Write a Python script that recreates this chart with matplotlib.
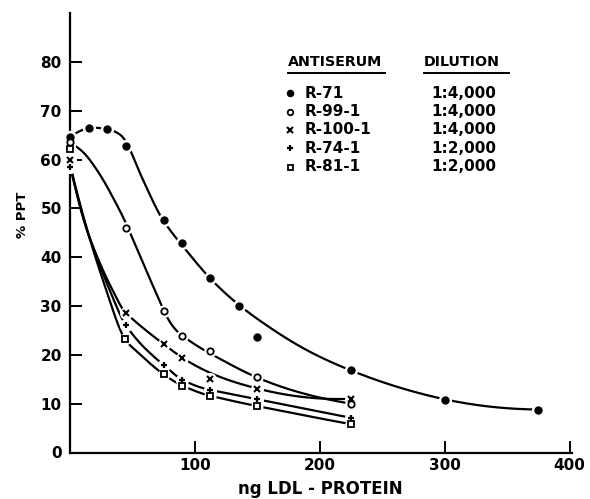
import numpy as np
import matplotlib
matplotlib.use("Agg")
import matplotlib.pyplot as plt

# --- data ---------------------------------------------------------------
# measured points (ng LDL-protein, % PPT)
x_r71 = [0, 15, 30, 45, 75, 90, 112.5, 135, 150, 225, 300, 375]
y_r71 = [64.6, 66.4, 66.3, 62.7, 47.6, 42.9, 35.8, 29.9, 23.7, 16.8, 10.7, 8.8]

x_r99 = [0, 45, 75, 90, 112.5, 150, 225]
y_r99 = [63.6, 45.9, 28.9, 23.8, 20.7, 15.5, 10.0]

x_r100 = [0, 45, 75, 90, 112.5, 150, 225]
y_r100 = [59.9, 28.6, 22.2, 19.4, 15.0, 13.1, 11.0]

x_r74 = [0, 45, 75, 90, 112.5, 150, 225]
y_r74 = [58.5, 26.1, 17.9, 14.9, 12.8, 10.9, 7.1]

x_r81 = [0, 44, 75, 90, 112.5, 150, 225]
y_r81 = [62.2, 23.2, 16.0, 13.7, 11.6, 9.5, 5.8]

# hand-drawn fitted curves, read at knots along each line
fit_x_r71 = [0, 15, 30, 40, 47, 58.5, 74.5, 89.2, 111, 134.9, 149.8, 181, 225, 300, 375]
fit_y_r71 = [64.6, 66.4, 66.2, 65.1, 62.6, 55.8, 47.6, 42.6, 36.0, 30.3, 27.4, 22.2, 16.8, 10.9, 8.8]
fit_x_r99 = [0, 15, 31.9, 46.6, 61.2, 75.3, 90, 112, 149.5, 225]
fit_y_r99 = [63.3, 60.2, 53.4, 45.9, 37.2, 29.0, 23.9, 20.3, 15.4, 10.0]
fit_x_r100 = [0, 15, 34, 44.7, 75, 90, 150, 225]
fit_y_r100 = [58.9, 44.5, 33.3, 28.6, 22.2, 19.4, 13.1, 11.0]
fit_x_r74 = [0, 15, 31.4, 44.7, 75, 90, 112.5, 150, 225]
fit_y_r74 = [58.9, 44.5, 33.5, 26.1, 17.9, 14.9, 12.8, 10.9, 7.1]
fit_x_r81 = [0, 15, 30, 43.3, 50, 75, 90, 112.5, 150, 225]
fit_y_r81 = [58.9, 44.5, 32.5, 23.5, 21.5, 16.0, 13.7, 11.6, 9.5, 5.8]

names = ["R-71", "R-99-1", "R-100-1", "R-74-1", "R-81-1"]
dilutions = ["1:4,000", "1:4,000", "1:4,000", "1:2,000", "1:2,000"]
x_ticks = [100, 200, 300, 400]
y_ticks = [0, 10, 20, 30, 40, 50, 60, 70, 80]


def akima(x, y, xs):
    # Akima spline: local, so it doesn't ring around the sharp knees
    x = np.asarray(x, float)
    y = np.asarray(y, float)
    h = np.diff(x)
    m = np.diff(y) / h
    mm = np.concatenate([[3 * m[0] - 2 * m[1], 2 * m[0] - m[1]], m,
                         [2 * m[-1] - m[-2], 3 * m[-1] - 2 * m[-2]]])
    n = len(x)
    t = np.zeros(n)
    for i in range(n):
        w1 = abs(mm[i + 3] - mm[i + 2])
        w2 = abs(mm[i + 1] - mm[i])
        if w1 + w2 < 1e-12:
            t[i] = 0.5 * (mm[i + 1] + mm[i + 2])
        else:
            t[i] = (w1 * mm[i + 1] + w2 * mm[i + 2]) / (w1 + w2)
    k = np.clip(np.searchsorted(x, xs) - 1, 0, n - 2)
    s = (xs - x[k]) / h[k]
    h00 = 2 * s**3 - 3 * s**2 + 1
    h10 = s**3 - 2 * s**2 + s
    h01 = -2 * s**3 + 3 * s**2
    h11 = s**3 - s**2
    return h00 * y[k] + h10 * h[k] * t[k] + h01 * y[k + 1] + h11 * h[k] * t[k + 1]


plt.rcParams["font.family"] = "DejaVu Sans"

fig = plt.figure(figsize=(5.9, 4.99), dpi=100)
ax = fig.add_axes([70 / 590, 1 - 452.5 / 499, (572 - 70) / 590, (452.5 - 13) / 499])

styles = [
    dict(marker="o", ms=5.0, mfc="black", mec="black", mew=1.0),
    dict(marker="o", ms=4.6, mfc="white", mec="black", mew=1.3),
    dict(marker="x", ms=4.8, mfc="black", mec="black", mew=1.5),
    dict(marker="+", ms=5.0, mfc="black", mec="black", mew=1.6),
    dict(marker="s", ms=4.2, mfc="white", mec="black", mew=1.3),
]
series = [
    (x_r71, y_r71, fit_x_r71, fit_y_r71),
    (x_r99, y_r99, fit_x_r99, fit_y_r99),
    (x_r100, y_r100, fit_x_r100, fit_y_r100),
    (x_r74, y_r74, fit_x_r74, fit_y_r74),
    (x_r81, y_r81, fit_x_r81, fit_y_r81),
]

for (px, py, fx, fy), st in zip(series, styles):
    cx = np.linspace(fx[0], fx[-1], 600)
    ax.plot(cx, akima(fx, fy, cx), color="black", lw=1.6, zorder=2,
            solid_capstyle="round", clip_on=False)
    # white halo gives the little gaps in the line around each point
    ax.plot(px, py, linestyle="none", marker="o", ms=st["ms"] + 3.5,
            mfc="white", mec="white", zorder=3, clip_on=False)
    ax.plot(px, py, linestyle="none", zorder=4, clip_on=False, **st)

ax.set_xlim(0, 402)
ax.set_ylim(0, 90)
ax.set_xticks(x_ticks)
ax.set_yticks(y_ticks)
ax.spines["top"].set_visible(False)
ax.spines["right"].set_visible(False)
ax.spines["left"].set_linewidth(1.6)
ax.spines["bottom"].set_linewidth(1.6)
ax.tick_params(direction="in", length=8.5, width=1.4, labelsize=11, pad=4)
ax.tick_params(axis="y", pad=6)
for lab in ax.get_xticklabels() + ax.get_yticklabels():
    lab.set_fontweight("bold")

fig.text(320 / 590, 1 - 489 / 499, "ng LDL - PROTEIN", ha="center", va="center",
         fontsize=12, fontweight="bold")
fig.text(22 / 590, 1 - 215 / 499, "% PPT", ha="center", va="center",
         rotation=90, fontsize=9.5, fontweight="bold")


# legend table (positions in pixels of the original)
def fx_(p):
    return p / 590


def fy_(p):
    return 1 - p / 499


fig.text(fx_(288), fy_(61.5), "ANTISERUM", ha="left", va="center",
         fontsize=10.3, fontweight="bold")
fig.text(fx_(424), fy_(61.5), "DILUTION", ha="left", va="center",
         fontsize=10.3, fontweight="bold")
fig.add_artist(plt.Line2D([fx_(288), fx_(385)], [fy_(72.5), fy_(72.5)],
                          color="black", lw=1.4))
fig.add_artist(plt.Line2D([fx_(424), fx_(509)], [fy_(72.5), fy_(72.5)],
                          color="black", lw=1.4))
row_y = [93.3, 111.5, 129.8, 148.3, 166.7]
for ry, name, dil, st in zip(row_y, names, dilutions, styles):
    fig.add_artist(plt.Line2D([fx_(290)], [fy_(ry)], linestyle="none",
                              **{**st, "ms": st["ms"] - 0.6}))
    fig.text(fx_(305), fy_(ry), name, ha="left", va="center",
             fontsize=11, fontweight="bold")
    fig.text(fx_(431), fy_(ry), dil, ha="left", va="center",
             fontsize=11, fontweight="bold")

fig.savefig("out.png", dpi=100)
